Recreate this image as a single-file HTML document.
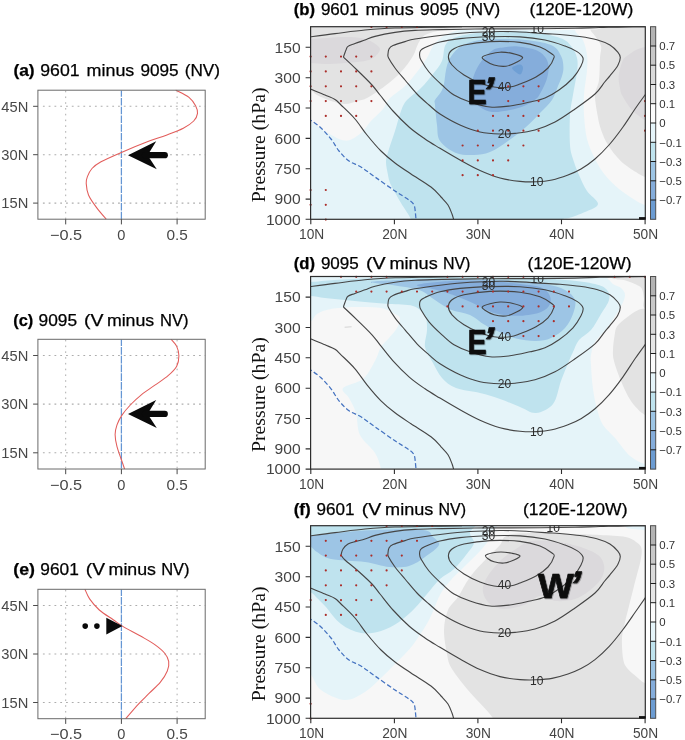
<!DOCTYPE html>
<html lang="en"><head><meta charset="utf-8"><title>Figure</title>
<style>html,body{margin:0;padding:0;background:#fff}svg{display:block}text{font-family:"Liberation Sans",sans-serif}.tk{font-size:14.1px;fill:#444}.tl{font-size:14.6px;fill:#484848}.cl{font-size:12px;fill:#2c2c2c}.cb{font-size:11.4px;fill:#333}.tt{font-size:16px;fill:#000;stroke:#000;stroke-width:0.25px}.yl{font-family:"Liberation Serif",serif;font-size:19.8px;fill:#111}.big{font-size:35.2px;font-weight:bold;fill:#0a0a0a;stroke:#0a0a0a;stroke-width:0.7px}</style></head><body>
<svg width="685" height="740" viewBox="0 0 685 740">
<rect width="685" height="740" fill="#fff"/>
<defs>
<clipPath id="cpb"><rect x="310.6" y="26.7" width="334.7" height="192.6"/></clipPath>
<g id="lines" fill="none" stroke="#454545" stroke-width="1.12" stroke-linejoin="round">
<path d="M308 37C308.4 37 305.9 37.4 310.4 36.8C314.9 36.2 325.9 34.7 335 33.6C344.1 32.5 355 30.9 365 30C375 29.1 384.2 28.4 395 28C405.8 27.6 418.8 27.5 430 27.3C441.2 27.1 456.7 26.7 462 26.6"/>
<path d="M308 88C308.4 88.2 307.6 87.8 310.4 89C313.2 90.2 320.9 93.2 325 95C329.1 96.8 332.3 97.8 335 99.5C337.7 101.2 337.7 101.8 341 105C344.3 108.2 350.7 114 355 119C359.3 124 362.7 129.7 367 135C371.3 140.3 376.3 146.3 381 151C385.7 155.7 390 159.2 395 163C400 166.8 405 170 411 174C417 178 426 183.2 431 187C436 190.8 438.2 194 441 197C443.8 200 446.2 202.2 448 205C449.8 207.8 451.1 211.6 452 214C452.9 216.4 453.3 218.1 453.6 219.4C453.9 220.7 453.9 221.6 454 222"/>
<path d="M343.4 57.2C343.8 56 345.2 51.8 346 50C346.8 48.2 346.5 47.5 348 46.4C349.5 45.3 352.2 44.7 355 43.6C357.8 42.5 361.7 41.2 365 40C368.3 38.8 370 37.7 375 36.4C380 35.1 388.3 33.4 395 32.4C401.7 31.4 407.2 30.9 415 30.4C422.8 29.9 429.5 29.9 442 29.6C454.5 29.4 473.7 29 490 28.9C506.3 28.8 525.8 28.9 540 28.8C554.2 28.7 565 28.5 575 28.3C585 28.1 591.7 27.7 600 27.5C608.3 27.3 617 27 625 26.9C633 26.8 644.2 26.7 648 26.7"/>
<path d="M343.4 57.2C345.7 59.3 352.2 65.4 357 70C361.8 74.6 368.2 80.8 372 85C375.8 89.2 376.5 90.7 380 95C383.5 99.3 388.2 105.7 393 111C397.8 116.3 403.7 122.3 409 127C414.3 131.7 419.8 135.4 425 139C430.2 142.6 434.2 144.8 440 148.3C445.8 151.8 453.3 156.3 460 160C466.7 163.7 473.3 167.5 480 170.5C486.7 173.5 493.3 176.2 500 178C506.7 179.8 513.9 180.8 520 181.4C526.1 182 531.3 182 536.6 181.8C541.9 181.6 546.8 181.1 552 180C557.2 178.9 563.2 176.8 568 175C572.8 173.2 576.5 171.7 581 169C585.5 166.3 590.3 163 595 159C599.7 155 604.3 150.3 609 145C613.7 139.7 618.7 133 623 127C627.3 121 631.3 114.4 635 109C638.7 103.6 643.2 97.5 645.4 94.5C647.6 91.5 647.6 91.6 648 91"/>
<path d="M442 35.2C451.2 34.1 460.3 33.1 470 32.5C479.7 31.9 492.5 31.6 500 31.5C507.5 31.4 507.5 31.4 515 31.8C522.5 32.1 537.5 33.1 545 33.6C552.5 34.1 554.2 34 560 34.5C565.8 35 573.6 35.6 579.7 36.5C585.8 37.4 591.8 38.3 596.8 39.7C601.8 41.1 606.4 42.9 609.9 45C613.4 47.1 616.1 50.1 617.8 52.2C619.5 54.3 620.3 55.3 620.3 57.5C620.3 59.7 619.5 62.3 617.8 65.4C616.1 68.5 612.1 73.1 609.9 75.9C607.7 78.7 607.2 79 604.7 82C602.2 85 600 89.5 595 94C590 98.5 581.7 104.3 575 109C568.3 113.7 561.7 118.5 555 122C548.3 125.5 541.7 128.1 535 130C528.3 131.9 520.8 132.7 515 133.4C509.2 134.1 505.8 134.2 500 134C494.2 133.8 486.7 133.5 480 132C473.3 130.5 466.7 128 460 125C453.3 122 445.2 117.3 440 114C434.8 110.7 432.8 108.3 429 105C425.2 101.7 421 98.2 417 94C413 89.8 408.7 84.3 405 80C401.3 75.7 397.7 71.7 395 68C392.3 64.3 389.8 60.3 388.6 58C387.4 55.7 387.9 55.5 388 54C388.1 52.5 388.2 50.4 389 49C389.8 47.6 390.3 46.8 393 45.6C395.7 44.4 401.3 42.7 405 41.6C408.7 40.5 408.8 40.1 415 39C421.2 37.9 432.8 36.3 442 35.2Z"/>
<path d="M440 42C445.8 40.5 451.7 39.5 460 38.6C468.3 37.7 480 37.1 490 36.8C500 36.5 510.8 36.4 520 36.9C529.2 37.4 537.5 38.5 545 40C552.5 41.5 559.7 44.1 565 46C570.3 47.9 574 49.6 577 51.6C580 53.6 582.3 55.6 583 58C583.7 60.4 582.7 62.7 581 66C579.3 69.3 576.7 74 573 78C569.3 82 563.7 86.7 559 90C554.3 93.3 549.8 96 545 98C540.2 100 535.8 100.7 530 102C524.2 103.3 516.7 105.2 510 106C503.3 106.8 496.7 107.7 490 107C483.3 106.3 476 104 470 102C464 100 458.7 97.8 454 95C449.3 92.2 446.2 88.8 442 85C437.8 81.2 432.5 76.2 429 72C425.5 67.8 422.6 62.8 421 60C419.4 57.2 419.7 56.6 419.6 55C419.5 53.4 419.7 51.7 420.6 50.5C421.5 49.3 421.8 49 425 47.6C428.2 46.2 434.2 43.5 440 42Z"/>
<path d="M448.4 57C448.4 54.5 449.4 52 452 50C454.6 48 457.7 46.4 464 45C470.3 43.6 480.7 42 490 41.6C499.3 41.2 511.7 41.5 520 42.4C528.3 43.3 534.7 45.1 540 47C545.3 48.9 549.7 52.2 552 54C554.3 55.8 554.7 55.3 554 57.6C553.3 59.9 551 64.8 548 68C545 71.2 540.7 74.3 536 77C531.3 79.7 524.3 82.3 520 84C515.7 85.7 514.3 86.5 510 87C505.7 87.5 499 87.7 494 87C489 86.3 485 85 480 83C475 81 468.7 78 464 75C459.3 72 454.6 68 452 65C449.4 62 448.4 59.5 448.4 57Z"/>
</g>
<g id="linesF" fill="none" stroke="#454545" stroke-width="1.12" stroke-linejoin="round">
<path d="M308 37C308.4 37 305.9 37.4 310.4 36.8C314.9 36.2 325.9 34.7 335 33.6C344.1 32.5 355 30.9 365 30C375 29.1 384.2 28.4 395 28C405.8 27.6 418.8 27.5 430 27.3C441.2 27.1 456.7 26.7 462 26.6"/>
<path d="M308 88C308.4 88.2 307.6 87.8 310.4 89C313.2 90.2 320.9 93.2 325 95C329.1 96.8 332.3 97.8 335 99.5C337.7 101.2 337.7 101.8 341 105C344.3 108.2 350.7 114 355 119C359.3 124 362.7 129.7 367 135C371.3 140.3 376.3 146.3 381 151C385.7 155.7 390 159.2 395 163C400 166.8 405 170 411 174C417 178 426 183.2 431 187C436 190.8 438.2 194 441 197C443.8 200 446.2 202.2 448 205C449.8 207.8 451.1 211.6 452 214C452.9 216.4 453.3 218.1 453.6 219.4C453.9 220.7 453.9 221.6 454 222"/>
<path d="M341 56C341.3 55 341.8 51.8 343 50C344.2 48.2 345.8 46.3 348 45C350.2 43.7 353.2 43.2 356 42.4C358.8 41.6 361.8 41 365 40C368.2 39 370 37.7 375 36.4C380 35.1 388.3 33.4 395 32.4C401.7 31.4 407.2 30.9 415 30.4C422.8 29.9 429.5 29.9 442 29.6C454.5 29.4 473.7 29 490 28.9C506.3 28.8 525.8 28.9 540 28.8C554.2 28.7 565 28.5 575 28.3C585 28.1 591.7 27.7 600 27.5C608.3 27.3 617 27 625 26.9C633 26.8 644.2 26.7 648 26.7"/>
<path d="M341 56C341.7 56.8 342.3 58.5 345 61C347.7 63.5 352.5 67 357 71C361.5 75 368.2 81 372 85C375.8 89 376.5 90.7 380 95C383.5 99.3 388.2 105.7 393 111C397.8 116.3 403.7 122.3 409 127C414.3 131.7 419.8 135.4 425 139C430.2 142.6 434.2 144.8 440 148.3C445.8 151.8 453.3 156.3 460 160C466.7 163.7 473.3 167.6 480 170.5C486.7 173.4 493.3 175.9 500 177.6C506.7 179.3 513.9 180.1 520 180.6C526.1 181.1 531.3 181 536.6 180.8C541.9 180.6 546.8 180.4 552 179.4C557.2 178.4 563.2 176.6 568 175C572.8 173.4 576.5 172 581 169.6C585.5 167.2 590.3 164.3 595 160.6C599.7 156.9 604.3 152.6 609 147.6C613.7 142.6 618.7 136.2 623 130.5C627.3 124.8 631.3 118.8 635 113.5C638.7 108.2 643.2 101.7 645.4 98.6C647.6 95.5 647.6 95.6 648 95"/>
<path d="M442 35.2C451.2 34.1 460.3 33.1 470 32.5C479.7 31.9 492.5 31.6 500 31.5C507.5 31.4 507.5 31.4 515 31.8C522.5 32.1 537.5 33.1 545 33.6C552.5 34.1 554.2 34 560 34.5C565.8 35 573.6 35.6 579.7 36.5C585.8 37.4 591.8 38.3 596.8 39.7C601.8 41.1 606.4 42.9 609.9 45C613.4 47.1 616.1 50.1 617.8 52.2C619.5 54.3 620.3 55.3 620.3 57.5C620.3 59.7 619.5 62.3 617.8 65.4C616.1 68.5 612.1 73.1 609.9 75.9C607.7 78.7 607.2 79 604.7 82C602.2 85 600 89.5 595 94C590 98.5 581.7 104.3 575 109C568.3 113.7 561.7 118.5 555 122C548.3 125.5 541.7 128.1 535 130C528.3 131.9 520.8 132.7 515 133.4C509.2 134.1 505.8 134.2 500 134C494.2 133.8 486.7 133.5 480 132C473.3 130.5 466.7 128 460 125C453.3 122 445.2 117.3 440 114C434.8 110.7 432.8 108.3 429 105C425.2 101.7 421 98.2 417 94C413 89.8 408.7 84.3 405 80C401.3 75.7 397.7 71.7 395 68C392.3 64.3 389.8 60.3 388.6 58C387.4 55.7 387.9 55.5 388 54C388.1 52.5 388.2 50.4 389 49C389.8 47.6 390.3 46.8 393 45.6C395.7 44.4 401.3 42.7 405 41.6C408.7 40.5 408.8 40.1 415 39C421.2 37.9 432.8 36.3 442 35.2Z"/>
<path d="M440 42C445.8 40.5 451.7 39.5 460 38.6C468.3 37.7 480 37.1 490 36.8C500 36.5 510.8 36.4 520 36.9C529.2 37.4 537.5 38.5 545 40C552.5 41.5 559.7 44.1 565 46C570.3 47.9 574 49.6 577 51.6C580 53.6 582.3 55.6 583 58C583.7 60.4 582.7 62.7 581 66C579.3 69.3 576.7 74 573 78C569.3 82 563.7 86.7 559 90C554.3 93.3 549.8 96 545 98C540.2 100 535.8 100.7 530 102C524.2 103.3 516.7 105.2 510 106C503.3 106.8 496.7 107.7 490 107C483.3 106.3 476 104 470 102C464 100 458.7 97.8 454 95C449.3 92.2 446.2 88.8 442 85C437.8 81.2 432.5 76.2 429 72C425.5 67.8 422.6 62.8 421 60C419.4 57.2 419.7 56.6 419.6 55C419.5 53.4 419.7 51.7 420.6 50.5C421.5 49.3 421.8 49 425 47.6C428.2 46.2 434.2 43.5 440 42Z"/>
<path d="M448.4 57C448.4 54.5 449.4 52 452 50C454.6 48 457.7 46.4 464 45C470.3 43.6 480.7 42 490 41.6C499.3 41.2 511.7 41.5 520 42.4C528.3 43.3 534.7 45.1 540 47C545.3 48.9 549.7 52.2 552 54C554.3 55.8 554.7 55.3 554 57.6C553.3 59.9 551 64.8 548 68C545 71.2 540.7 74.3 536 77C531.3 79.7 524.3 82.3 520 84C515.7 85.7 514.3 86.5 510 87C505.7 87.5 499 87.7 494 87C489 86.3 485 85 480 83C475 81 468.7 78 464 75C459.3 72 454.6 68 452 65C449.4 62 448.4 59.5 448.4 57Z"/>
</g>
<g id="lines_b" fill="none" stroke="#454545" stroke-width="1.12">
<path d="M482.4 57C483.2 55.9 487.1 54.8 490 54C492.9 53.2 496.3 52.3 500 52.2C503.7 52.1 508.2 52.5 512 53.4C515.8 54.3 521.9 55.9 522.6 57.4C523.3 58.9 518.8 61 516 62.5C513.2 64 509.7 65.8 506 66.2C502.3 66.6 497.5 66 494 65C490.5 64 486.9 61.8 485 60.5C483.1 59.2 481.6 58.1 482.4 57Z"/>
</g>
<g id="lines_f" fill="none" stroke="#454545" stroke-width="1.12">
<path d="M485.6 56.4C486.3 55.4 489.4 54.6 492 54C494.6 53.4 497.7 53 501 53C504.3 53 508.8 53.7 512 54.3C515.2 54.9 519.7 55.7 520 56.8C520.3 57.9 516.7 59.8 514 61C511.3 62.2 507.3 63.7 504 64C500.7 64.3 496.7 63.5 494 62.8C491.3 62.1 489.4 60.9 488 59.8C486.6 58.7 484.9 57.4 485.6 56.4Z"/>
</g>
<path id="dash" fill="none" stroke="#4472c0" stroke-width="1.25" stroke-dasharray="4.6 2.4" d="M308 118.4C308.4 118.7 308.2 118.4 310.4 120C312.6 121.6 317.6 124.8 321 128C324.4 131.2 328 135.2 331 139C334 142.8 336 147.3 339 151C342 154.7 345.3 158.3 349 161C352.7 163.7 356.7 164.3 361 167C365.3 169.7 369.3 173 375 177C380.7 181 389.3 187.2 395 191C400.7 194.8 405.8 197.7 409 200C412.2 202.3 412.9 202.8 414 205C415.1 207.2 415.1 210.6 415.4 213C415.7 215.4 415.9 218.3 416 219.4"/>
</defs>
<defs><filter id="sh" x="-10%" y="-10%" width="130%" height="130%"><feDropShadow dx="0.6" dy="0.8" stdDeviation="0.7" flood-color="#000" flood-opacity="0.45"/></filter></defs>
<g>
<g clip-path="url(#cpb)" transform="translate(0 0)">
<rect x="309.6" y="25.7" width="336.7" height="194.6" fill="#e5f4f9"/>
<path fill="#bfe3ee" d="M442 61C439.8 66 436.5 69.5 433 74C429.5 78.5 425.3 83.7 421 88C416.7 92.3 410.3 96.2 407 100C403.7 103.8 403 105.8 401 111C399 116.2 397 124.7 395 131C393 137.3 390.5 144 389 149C387.5 154 386.2 156.7 386 161C385.8 165.3 387.2 171 388 175C388.8 179 388.8 180.3 391 185C393.2 189.7 397.7 197.3 401 203C404.3 208.7 409.2 214.9 411 219.4C412.8 223.9 386.7 228.2 412 230C437.3 231.8 537.8 231.8 563 230C588.2 228.2 562 221.4 563 219.4C564 217.4 565.3 219.2 569 218C572.7 216.8 580.2 214.3 585 212C589.8 209.7 597.7 207.5 598 204C598.3 200.5 590.2 195.8 587 191C583.8 186.2 581.3 180.3 579 175C576.7 169.7 574.5 164 573 159C571.5 154 570.5 152.3 570 145C569.5 137.7 569.5 123.3 570 115C570.5 106.7 571.8 102.2 573 95C574.2 87.8 576.3 78.2 577 72C577.7 65.8 578 62.3 577 58C576 53.7 573.8 49.3 571 46C568.2 42.7 566.8 40.3 560 38C553.2 35.7 541.7 33 530 32C518.3 31 501.7 31.3 490 32C478.3 32.7 467.3 34 460 36C452.7 38 449 39.8 446 44C443 48.2 444.2 56 442 61Z"/>
<path fill="#9dc5e5" d="M435 100C436 97.8 439.5 94.7 441 92C442.5 89.3 443.2 87.7 444 84C444.8 80.3 445.1 74.2 446 70C446.9 65.8 447.6 62.5 449.7 58.8C451.8 55.1 454.5 50.8 458.5 47.9C462.5 45 467.6 42.8 473.8 41.3C480 39.8 486.6 39.3 495.7 39.1C504.8 38.9 519 39.1 528.5 40.2C538 41.3 547.1 43 552.6 45.7C558.1 48.5 559.6 53.1 561.4 56.7C563.2 60.4 563.3 64.4 563.4 67.6C563.5 70.8 562.9 72.9 562 76C561.1 79.1 559.7 82 558 86C556.3 90 555 95.5 552 100C549 104.5 544.3 108.5 540 113C535.7 117.5 531.3 122.3 526 127C520.7 131.7 514 136.8 508 141C502 145.2 495.7 149.7 490 152C484.3 154.3 479.7 154.8 474 155C468.3 155.2 461.7 155.3 456 153C450.3 150.7 443.2 145.7 440 141C436.8 136.3 437.8 131 437 125C436.2 119 435.3 109.2 435 105C434.7 100.8 434 102.2 435 100Z"/>
<path fill="#85addb" d="M470 97C468.9 91.9 471.6 82.5 473.5 76.5C475.4 70.5 478.2 65.4 481.5 61C484.8 56.6 489.4 52.2 493 50C496.6 47.8 498.8 48.1 503 47.5C507.2 46.9 512.3 46 518 46.5C523.7 47 532.3 48.4 537 50.4C541.7 52.4 544.1 55.4 546 58.3C547.9 61.2 548.5 64.4 548.6 68C548.7 71.6 547.8 76 546.5 80C545.2 84 542.8 88.8 541 92C539.2 95.2 538.8 96.7 536 99C533.2 101.3 528.3 104.2 524 106C519.7 107.8 515.3 109 510 110C504.7 111 497 112.5 492 112C487 111.5 483.7 109.5 480 107C476.3 104.5 471.1 102.1 470 97Z"/>
<path fill="#6f9fd4" d="M512 68C512 66.3 518.2 64.4 520 64.4C521.8 64.4 523 66.3 523 68C523 69.7 521.8 74.4 520 74.4C518.2 74.4 512 69.7 512 68Z"/>
<path fill="#f7f7f7" d="M300 10C328.3 -7.7 441.7 7.2 470 10C498.3 12.8 472.5 23.5 470 27C467.5 30.5 459.7 29.3 455 31C450.3 32.7 445.7 34.5 442 37C438.3 39.5 435.5 42.5 433 46C430.5 49.5 429.7 53.7 427 58C424.3 62.3 420.7 67.3 417 72C413.3 76.7 409.5 81.7 405 86C400.5 90.3 393.7 94.2 390 98C386.3 101.8 386.2 105.2 383 109C379.8 112.8 374.7 117 371 121C367.3 125 365.3 129.7 361 133C356.7 136.3 351.3 141.1 345 140.6C338.7 140.1 328.8 133.3 323 130C317.2 126.7 314.2 123.3 310.4 121C306.6 118.7 301.7 134.5 300 116C298.3 97.5 271.7 27.7 300 10Z"/>
<path fill="#e3e3e3" d="M300 10C325.8 -3 429.2 7.2 455 10C480.8 12.8 457.2 23.7 455 27C452.8 30.3 447 28.7 442 30C437 31.3 429 32.7 425 35C421 37.3 420 40.5 418 44C416 47.5 415.8 51.3 413 56C410.2 60.7 405.7 67 401 72C396.3 77 390.7 81.7 385 86C379.3 90.3 371.7 95.5 367 98C362.3 100.5 360.7 100 357 101C353.3 102 349.3 104 345 104C340.7 104 335.7 102.5 331 101C326.3 99.5 320.4 96.8 317 95C313.6 93.2 313.2 91.2 310.4 90C307.6 88.8 301.7 101.3 300 88C298.3 74.7 274.2 23 300 10Z"/>
<path fill="#dbd9dc" d="M300 39C301.7 35 302.9 39.3 310.4 39C317.9 38.7 335.9 37 345 37C354.1 37 359.5 37.5 365 39C370.5 40.5 375.7 43.8 378 46C380.3 48.2 380.5 49.7 379 52C377.5 54.3 374.7 58.2 369 60C363.3 61.8 352.3 62.3 345 63C337.7 63.7 330.8 64 325 64C319.2 64 314.6 63.2 310.4 63C306.2 62.8 301.7 67 300 63C298.3 59 298.3 43 300 39Z"/>
<path fill="#f7f7f7" d="M575 10C589.2 6.7 645.8 -22.8 660 10C674.2 42.8 662.5 174.5 660 207C657.5 239.5 649.2 206.2 645 205C640.8 203.8 639.3 202.7 635 200C630.7 197.3 624 193.2 619 189C614 184.8 609 180 605 175C601 170 598 165 595 159C592 153 588.8 146.3 587 139C585.2 131.7 584.5 122.3 584 115C583.5 107.7 583.5 102.5 584 95C584.5 87.5 586.5 76.7 587 70C587.5 63.3 587.7 60 587 55C586.3 50 585 44.2 583 40C581 35.8 576.3 35 575 30C573.7 25 560.8 13.3 575 10Z"/>
<path fill="#e3e3e3" d="M590 10C601.7 7 648.3 -18.2 660 10C671.7 38.2 662.5 151.2 660 179C657.5 206.8 648.7 177.8 644.7 176.7C640.7 175.5 640 174.7 636 172.1C632 169.5 625.3 165.3 620.7 160.9C616.1 156.5 611.6 150.6 608.4 145.5C605.1 140.4 603 135.3 601.2 130.2C599.4 125.1 598.5 120.9 597.5 115C596.5 109.1 594.8 100.8 595 95C595.2 89.2 598.2 86.2 599 80C599.8 73.8 599.7 63.7 600 58C600.3 52.3 601.8 49.7 601 46C600.2 42.3 596.8 39 595 36C593.2 33 590.8 32.3 590 28C589.2 23.7 578.3 13 590 10Z"/>
<path fill="#dbd9dc" d="M660 45C657.6 32.5 649.4 46.1 645.4 46.9C641.4 47.7 639.1 48.5 636 50C632.9 51.5 629.2 54.2 627 56C624.8 57.8 623.9 57.7 622.5 61C621.1 64.3 619.1 71.5 618.7 76C618.3 80.5 619.4 84.7 620 88C620.6 91.3 620.5 92.4 622.5 96C624.5 99.6 628.6 106.2 631.7 109.8C634.8 113.4 638.7 115.7 641 117.4C643.3 119.1 642.2 119.2 645.4 120C648.6 120.8 657.6 134.5 660 122C662.4 109.5 662.4 57.5 660 45Z"/>
<path fill="#f7f7f7" d="M452 20C476.7 18.5 575.3 18.6 600 20C624.7 21.4 602.5 27 600 28.6C597.5 30.2 591.7 29.3 585 29.6C578.3 29.9 574.2 30.2 560 30.2C545.8 30.2 518 29.8 500 29.6C482 29.4 460 30.8 452 29.2C444 27.6 427.3 21.5 452 20Z"/>
<use href="#lines"/><use href="#lines_b"/><use href="#dash"/>
</g>
<path d="M371.4 27h0M386.6 27h0M401.8 27h0M417 27h0M310.6 56.6h0M325.8 56.6h0M341 56.6h0M356.2 56.6h0M371.4 56.6h0M310.6 71.4h0M325.8 71.4h0M341 71.4h0M356.2 71.4h0M371.4 71.4h0M310.6 86.3h0M325.8 86.3h0M341 86.3h0M356.2 86.3h0M371.4 86.3h0M310.6 101.1h0M325.8 101.1h0M341 101.1h0M356.2 101.1h0M371.4 101.1h0M325.8 115.9h0M341 115.9h0M356.2 115.9h0M310.6 190h0M325.8 190h0M310.6 204.8h0M325.8 204.8h0M325.8 219.6h0M508.2 86.3h0M523.4 86.3h0M538.6 86.3h0M508.2 101.1h0M523.4 101.1h0M538.6 101.1h0M493 115.9h0M508.2 115.9h0M523.4 115.9h0M538.6 115.9h0M477.8 130.7h0M493 130.7h0M508.2 130.7h0M523.4 130.7h0M538.6 130.7h0M462.6 145.5h0M477.8 145.5h0M493 145.5h0M508.2 145.5h0M523.4 145.5h0M462.6 160.4h0M477.8 160.4h0M493 160.4h0M508.2 160.4h0M462.6 175.2h0M477.8 175.2h0M493 175.2h0M645 101.1h0M645 115.9h0M645 130.7h0" stroke="#ab2e2a" stroke-width="2.2" stroke-linecap="round" fill="none"/>
<text class="cl" x="536.8" y="186" text-anchor="middle">10</text>
<text class="cl" x="504.4" y="138.4" text-anchor="middle">20</text>
<text class="cl" x="504.4" y="91.2" text-anchor="middle">40</text>
<text class="cl" x="488.4" y="36.2" text-anchor="middle">20</text>
<text class="cl" x="488.4" y="40.6" text-anchor="middle">30</text>
<g clip-path="url(#cpb)" transform="translate(0 0)"><text class="cl" x="537.2" y="33" text-anchor="middle">10</text></g>
<rect x="310.6" y="26.7" width="334.7" height="192.6" fill="none" stroke="#2e2e2e" stroke-width="1.2"/>
<rect x="639" y="217.1" width="6.6" height="2.4" fill="#111"/>
<path d="M310.6 47.3h-5M310.6 77.7h-5M310.6 108h-5M310.6 138.4h-5M310.6 168.7h-5M310.6 199.1h-5M310.6 219.3h-5M310.8 219.3v5M394.4 219.3v5M477.9 219.3v5M561.5 219.3v5M645.1 219.3v5" stroke="#2e2e2e" stroke-width="1.1" fill="none"/>
<text class="tk" x="300.7" y="52.5" text-anchor="end" textLength="26.1" lengthAdjust="spacingAndGlyphs">150</text>
<text class="tk" x="300.7" y="82.9" text-anchor="end" textLength="26.1" lengthAdjust="spacingAndGlyphs">300</text>
<text class="tk" x="300.7" y="113.2" text-anchor="end" textLength="26.1" lengthAdjust="spacingAndGlyphs">450</text>
<text class="tk" x="300.7" y="143.6" text-anchor="end" textLength="26.1" lengthAdjust="spacingAndGlyphs">600</text>
<text class="tk" x="300.7" y="173.9" text-anchor="end" textLength="26.1" lengthAdjust="spacingAndGlyphs">750</text>
<text class="tk" x="300.7" y="204.3" text-anchor="end" textLength="26.1" lengthAdjust="spacingAndGlyphs">900</text>
<text class="tk" x="300.7" y="224.5" text-anchor="end" textLength="34.8" lengthAdjust="spacingAndGlyphs">1000</text>
<text class="tk" x="311.6" y="238.7" text-anchor="middle" textLength="25.2" lengthAdjust="spacingAndGlyphs">10N</text>
<text class="tk" x="394.8" y="238.7" text-anchor="middle" textLength="25.2" lengthAdjust="spacingAndGlyphs">20N</text>
<text class="tk" x="478.3" y="238.7" text-anchor="middle" textLength="25.2" lengthAdjust="spacingAndGlyphs">30N</text>
<text class="tk" x="561.9" y="238.7" text-anchor="middle" textLength="25.2" lengthAdjust="spacingAndGlyphs">40N</text>
<text class="tk" x="645.5" y="238.7" text-anchor="middle" textLength="25.2" lengthAdjust="spacingAndGlyphs">50N</text>
<text class="yl" transform="translate(264.6 144.8) rotate(-90)" text-anchor="middle">Pressure (hPa)</text>
<g style="filter:url(#sh)"><text class="big" x="467.8" y="103.9" textLength="18.8" lengthAdjust="spacingAndGlyphs">E</text><text class="big" transform="translate(479.6 105.1) skewX(-14)" style="font-size:40px">’</text></g>
<text class="tt" x="293.7" y="15.2" textLength="21.3" lengthAdjust="spacingAndGlyphs" font-weight="bold">(b)</text>
<text class="tt" x="320.9" y="15.2" textLength="37.9" lengthAdjust="spacingAndGlyphs">9601</text>
<text class="tt" x="365.5" y="15.2" textLength="48.2" lengthAdjust="spacingAndGlyphs">minus</text>
<text class="tt" x="420.1" y="15.2" textLength="38.6" lengthAdjust="spacingAndGlyphs">9095</text>
<text class="tt" x="465.2" y="15.2" textLength="35" lengthAdjust="spacingAndGlyphs">(NV)</text>
<text class="tt" x="529.4" y="15.2" textLength="104" lengthAdjust="spacingAndGlyphs">(120E-120W)</text>
<rect x="650.5" y="26.7" width="5.2" height="19.5" fill="#b3b3b3"/>
<rect x="650.5" y="46" width="5.2" height="19.5" fill="#c8c8c8"/>
<rect x="650.5" y="65.2" width="5.2" height="19.5" fill="#dadada"/>
<rect x="650.5" y="84.5" width="5.2" height="19.5" fill="#e6e6e6"/>
<rect x="650.5" y="103.7" width="5.2" height="19.5" fill="#fbfbfb"/>
<rect x="650.5" y="123" width="5.2" height="19.5" fill="#e5f4f9"/>
<rect x="650.5" y="142.3" width="5.2" height="19.5" fill="#bfe3ee"/>
<rect x="650.5" y="161.5" width="5.2" height="19.5" fill="#9dc5e5"/>
<rect x="650.5" y="180.8" width="5.2" height="19.5" fill="#85addb"/>
<rect x="650.5" y="200" width="5.2" height="19.5" fill="#6c9cd2"/>
<rect x="650.5" y="26.7" width="5.2" height="192.6" fill="none" stroke="#4e4e4e" stroke-width="1"/>
<text class="cb" x="659.3" y="50.2">0.7</text>
<text class="cb" x="659.3" y="69.4">0.5</text>
<text class="cb" x="659.3" y="88.7">0.3</text>
<text class="cb" x="659.3" y="107.9">0.1</text>
<text class="cb" x="659.3" y="127.2">0</text>
<text class="cb" x="659.3" y="146.5">−0.1</text>
<text class="cb" x="659.3" y="165.7">−0.3</text>
<text class="cb" x="659.3" y="185">−0.5</text>
<text class="cb" x="659.3" y="204.2">−0.7</text>
<path d="M650.5 46h5.6M650.5 65.2h5.6M650.5 84.5h5.6M650.5 103.7h5.6M650.5 123h5.6M650.5 142.3h5.6M650.5 161.5h5.6M650.5 180.8h5.6M650.5 200h5.6" stroke="#1c1c1c" stroke-width="1" fill="none"/>
</g>
<g>
<g clip-path="url(#cpb)" transform="translate(0 249.8)">
<rect x="309.6" y="25.7" width="336.7" height="194.6" fill="#e5f4f9"/>
<path fill="#bfe3ee" d="M300 32.2C301.7 29.9 304.6 32.5 310.4 32.2C316.2 31.9 325.9 30.8 335 30.2C344.1 29.6 354.2 29.2 365 28.8C375.8 28.4 385.8 28 400 27.8C414.2 27.6 430.8 27.2 450 27.4C469.2 27.6 495.8 28.3 515 28.8C534.2 29.3 551.7 29.3 565 30.2C578.3 31.1 588 32.5 595 34.2C602 35.9 604.7 37.5 607 40.2C609.3 42.9 610 46.2 609 50.2C608 54.2 604 59.2 601 64.2C598 69.2 594.7 75.9 591 80.2C587.3 84.5 582 86.5 579 90.2C576 93.9 574.7 98.7 573 102.2C571.3 105.7 571 106.4 569 111.2C567 116 563.7 124 561 131.2C558.3 138.4 557.2 148.9 553 154.2C548.8 159.5 541.5 162.7 536 163.2C530.5 163.7 526 159.5 520 157.2C514 154.9 506.7 151.5 500 149.2C493.3 146.9 487.3 145 480 143.2C472.7 141.4 462.3 140.7 456 138.2C449.7 135.7 445.8 132.4 442 128.2C438.2 124 435.8 118.4 433 113.2C430.2 108 426 102.7 425 97.2C424 91.7 427 85.4 427 80.2C427 75 427.3 70.2 425 66.2C422.7 62.2 419 58.2 413 56.2C407 54.2 397 54.9 389 54.2C381 53.5 372.3 52.9 365 52.2C357.7 51.5 351.7 50.9 345 50.2C338.3 49.5 330.8 48.9 325 48.2C319.2 47.5 314.6 46.5 310.4 46.2C306.2 45.9 301.7 48.5 300 46.2C298.3 43.9 298.3 34.5 300 32.2Z"/>
<path fill="#9dc5e5" d="M371 32.2C370.2 33.1 388.4 34.7 395 35.7C401.6 36.7 405.9 37.2 410.5 38.2C415.1 39.2 418.7 39.7 422.8 41.7C426.9 43.7 430.3 47.2 435 50.2C439.7 53.2 445 57.4 450.8 59.9C456.6 62.4 464.4 62.6 470 65.1C475.6 67.6 480 72.3 484.1 74.8C488.2 77.3 489.3 77.7 494.6 80C499.9 82.3 509.1 86.9 516 88.8C522.9 90.7 530.2 91.3 536 91.2C541.8 91.1 546.2 90.4 551 88.2C555.8 86 561.3 82.2 565 78.2C568.7 74.2 571.3 68.9 573 64.2C574.7 59.5 576.3 54.2 575 50.2C573.7 46.2 570 42.9 565 40.2C560 37.5 553.3 35.6 545 34.2C536.7 32.8 522.5 32.4 515 31.7C507.5 31 512.5 30.6 500 30.2C487.5 29.8 456.7 29.2 440 29.2C423.3 29.2 411.5 29.7 400 30.2C388.5 30.7 371.8 31.3 371 32.2Z"/>
<path fill="#85addb" d="M417 35.2C414.5 36.6 429.1 38.1 435 39.7C440.9 41.3 446.8 42.9 452.6 45C458.4 47.1 464.8 49.7 470 52C475.2 54.3 479.3 57 484 59C488.7 61 492 63 498 64.2C504 65.4 512.8 66.3 520 66C527.2 65.7 536 64.2 541 62.2C546 60.2 548.7 57.2 550 54.2C551.3 51.2 550.7 47 549 44.2C547.3 41.4 544.8 38.9 540 37.2C535.2 35.5 528.3 35.2 520 34.2C511.7 33.2 501.7 31.7 490 31.2C478.3 30.7 462.2 30.5 450 31.2C437.8 31.9 419.5 33.8 417 35.2Z"/>
<path fill="#f7f7f7" d="M300 72.2C301.7 45.9 307.6 73.5 310.4 72.2C313.2 70.9 313.6 66.4 317 64.2C320.4 62 324.7 60.4 331 59.2C337.3 58 346.7 57.4 355 57.2C363.3 57 374.3 57 381 58.2C387.7 59.4 391.8 62.5 395 64.2C398.2 65.9 399.7 65.9 400 68.2C400.3 70.5 398.8 74.9 397 78.2C395.2 81.5 391.7 85 389 88.2C386.3 91.4 383.3 93.4 381 97.2C378.7 101 378 105.9 375 111.2C372 116.5 368.3 124.7 363 129.2C357.7 133.7 345.3 135 343 138.2C340.7 141.4 346.8 144 349 148.2C351.2 152.4 354.2 157 356 163.2C357.8 169.4 356.8 178.5 360 185.2C363.2 191.9 371.5 197.5 375 203.2C378.5 208.9 380 214.7 381 219.2C382 223.7 394.5 228.4 381 230.2C367.5 232 313.5 256.5 300 230.2C286.5 203.9 298.3 98.5 300 72.2Z"/>
<path fill="#f7f7f7" d="M600 12.2C591.8 15.5 607.5 27.9 611 32.2C614.5 36.5 618.7 35.9 621 38.2C623.3 40.5 625.3 42.5 625 46.2C624.7 49.9 622 54.9 619 60.2C616 65.5 611 72.9 607 78.2C603 83.5 597.7 87.7 595 92.2C592.3 96.7 591.7 101.4 591 105.2C590.3 109 590.7 109.5 591 115.2C591.3 120.9 592 131.9 593 139.2C594 146.5 595.3 153.2 597 159.2C598.7 165.2 600 170.4 603 175.2C606 180 610.5 183 615 188.2C619.5 193.4 625 201.9 630 206.2C635 210.5 640 212.5 645 214.2C650 215.9 657.5 249.9 660 216.2C662.5 182.5 670 46.2 660 12.2C650 -21.8 608.2 8.9 600 12.2Z"/>
<path fill="#e3e3e3" d="M611 12.2C602.9 14.8 609.2 24.8 611.5 27.8C613.8 30.9 621 29.4 625 30.5C629 31.6 632.7 33.1 635.5 34.5C638.3 35.9 640.3 36.5 641.7 38.8C643.1 41.1 643.4 45 643.9 48.2C644.4 51.4 641.9 56.4 644.6 58.2C647.3 60 657.4 66.9 660 59.2C662.6 51.5 668.2 20 660 12.2C651.8 4.4 619.1 9.6 611 12.2Z"/>
<path fill="#e3e3e3" d="M660 57.2C657.6 39.1 649.2 58.2 645.4 58.8C641.6 59.4 640.4 59.2 637.3 60.7C634.2 62.2 630.2 65.1 626.8 67.7C623.4 70.3 619.1 73.4 617.1 76.5C615.1 79.6 615.2 82.2 614.5 86.2C613.8 90.1 613.1 96 613 100.2C612.9 104.4 612.7 106 614 111.2C615.3 116.4 618.2 124.5 621 131.2C623.8 137.9 627 145.5 631 151.2C635 156.9 640.2 162.5 645 165.2C649.8 167.9 657.5 185.2 660 167.2C662.5 149.2 662.4 75.3 660 57.2Z"/>
<use href="#lines"/><use href="#lines_b"/><use href="#dash"/>
</g>
<path d="M341 276.8h0M356.2 276.8h0M371.4 276.8h0M386.6 276.8h0M447.4 276.8h0M462.6 276.8h0M477.8 276.8h0M493 276.8h0M508.2 276.8h0M523.4 276.8h0M614.6 276.8h0M629.8 276.8h0M645 276.8h0M356.2 291.6h0M371.4 291.6h0M386.6 291.6h0M401.8 291.6h0M417 291.6h0M432.2 291.6h0M447.4 291.6h0M462.6 291.6h0M477.8 291.6h0M493 291.6h0M508.2 291.6h0M523.4 291.6h0M538.6 291.6h0M553.8 291.6h0M569 291.6h0M447.4 306.4h0M462.6 306.4h0M477.8 306.4h0M493 306.4h0M508.2 306.4h0M523.4 306.4h0M538.6 306.4h0M553.8 306.4h0M569 306.4h0M493 321.2h0M508.2 321.2h0M523.4 321.2h0M538.6 321.2h0M553.8 321.2h0M523.4 336.1h0M538.6 336.1h0M553.8 336.1h0" stroke="#ab2e2a" stroke-width="2.2" stroke-linecap="round" fill="none"/>
<text class="cl" x="536.8" y="435.8" text-anchor="middle">10</text>
<text class="cl" x="504.4" y="388.2" text-anchor="middle">20</text>
<text class="cl" x="504.4" y="341" text-anchor="middle">40</text>
<text class="cl" x="488.4" y="286" text-anchor="middle">20</text>
<text class="cl" x="488.4" y="290.4" text-anchor="middle">30</text>
<g clip-path="url(#cpb)" transform="translate(0 249.8)"><text class="cl" x="537.2" y="33" text-anchor="middle">10</text></g>
<rect x="310.6" y="276.5" width="334.7" height="192.6" fill="none" stroke="#2e2e2e" stroke-width="1.2"/>
<rect x="639" y="466.9" width="6.6" height="2.4" fill="#111"/>
<path d="M310.6 297.1h-5M310.6 327.5h-5M310.6 357.8h-5M310.6 388.2h-5M310.6 418.5h-5M310.6 448.9h-5M310.6 469.1h-5M310.8 469.1v5M394.4 469.1v5M477.9 469.1v5M561.5 469.1v5M645.1 469.1v5" stroke="#2e2e2e" stroke-width="1.1" fill="none"/>
<text class="tk" x="300.7" y="302.3" text-anchor="end" textLength="26.1" lengthAdjust="spacingAndGlyphs">150</text>
<text class="tk" x="300.7" y="332.7" text-anchor="end" textLength="26.1" lengthAdjust="spacingAndGlyphs">300</text>
<text class="tk" x="300.7" y="363" text-anchor="end" textLength="26.1" lengthAdjust="spacingAndGlyphs">450</text>
<text class="tk" x="300.7" y="393.4" text-anchor="end" textLength="26.1" lengthAdjust="spacingAndGlyphs">600</text>
<text class="tk" x="300.7" y="423.7" text-anchor="end" textLength="26.1" lengthAdjust="spacingAndGlyphs">750</text>
<text class="tk" x="300.7" y="454.1" text-anchor="end" textLength="26.1" lengthAdjust="spacingAndGlyphs">900</text>
<text class="tk" x="300.7" y="474.3" text-anchor="end" textLength="34.8" lengthAdjust="spacingAndGlyphs">1000</text>
<text class="tk" x="311.6" y="488.5" text-anchor="middle" textLength="25.2" lengthAdjust="spacingAndGlyphs">10N</text>
<text class="tk" x="394.8" y="488.5" text-anchor="middle" textLength="25.2" lengthAdjust="spacingAndGlyphs">20N</text>
<text class="tk" x="478.3" y="488.5" text-anchor="middle" textLength="25.2" lengthAdjust="spacingAndGlyphs">30N</text>
<text class="tk" x="561.9" y="488.5" text-anchor="middle" textLength="25.2" lengthAdjust="spacingAndGlyphs">40N</text>
<text class="tk" x="645.5" y="488.5" text-anchor="middle" textLength="25.2" lengthAdjust="spacingAndGlyphs">50N</text>
<text class="yl" transform="translate(264.6 394.6) rotate(-90)" text-anchor="middle">Pressure (hPa)</text>
<g style="filter:url(#sh)"><text class="big" x="467.8" y="353.7" textLength="18.8" lengthAdjust="spacingAndGlyphs">E</text><text class="big" transform="translate(479.6 354.9) skewX(-14)" style="font-size:40px">’</text></g>
<text class="tt" x="293.7" y="268.9" textLength="21.3" lengthAdjust="spacingAndGlyphs" font-weight="bold">(d)</text>
<text class="tt" x="320.9" y="268.9" textLength="37.9" lengthAdjust="spacingAndGlyphs">9095</text>
<text class="tt" x="366.1" y="268.9" textLength="19.6" lengthAdjust="spacingAndGlyphs">(V</text>
<text class="tt" x="389.5" y="268.9" textLength="48.2" lengthAdjust="spacingAndGlyphs">minus</text>
<text class="tt" x="442.9" y="268.9" textLength="27.5" lengthAdjust="spacingAndGlyphs">NV)</text>
<text class="tt" x="527.4" y="268.9" textLength="104.2" lengthAdjust="spacingAndGlyphs">(120E-120W)</text>
<rect x="650.5" y="276.5" width="5.2" height="19.5" fill="#b3b3b3"/>
<rect x="650.5" y="295.8" width="5.2" height="19.5" fill="#c8c8c8"/>
<rect x="650.5" y="315" width="5.2" height="19.5" fill="#dadada"/>
<rect x="650.5" y="334.3" width="5.2" height="19.5" fill="#e6e6e6"/>
<rect x="650.5" y="353.5" width="5.2" height="19.5" fill="#fbfbfb"/>
<rect x="650.5" y="372.8" width="5.2" height="19.5" fill="#e5f4f9"/>
<rect x="650.5" y="392.1" width="5.2" height="19.5" fill="#bfe3ee"/>
<rect x="650.5" y="411.3" width="5.2" height="19.5" fill="#9dc5e5"/>
<rect x="650.5" y="430.6" width="5.2" height="19.5" fill="#85addb"/>
<rect x="650.5" y="449.8" width="5.2" height="19.5" fill="#6c9cd2"/>
<rect x="650.5" y="276.5" width="5.2" height="192.6" fill="none" stroke="#4e4e4e" stroke-width="1"/>
<text class="cb" x="659.3" y="300">0.7</text>
<text class="cb" x="659.3" y="319.2">0.5</text>
<text class="cb" x="659.3" y="338.5">0.3</text>
<text class="cb" x="659.3" y="357.7">0.1</text>
<text class="cb" x="659.3" y="377">0</text>
<text class="cb" x="659.3" y="396.3">−0.1</text>
<text class="cb" x="659.3" y="415.5">−0.3</text>
<text class="cb" x="659.3" y="434.8">−0.5</text>
<text class="cb" x="659.3" y="454">−0.7</text>
<path d="M650.5 295.8h5.6M650.5 315h5.6M650.5 334.3h5.6M650.5 353.5h5.6M650.5 372.8h5.6M650.5 392.1h5.6M650.5 411.3h5.6M650.5 430.6h5.6M650.5 449.8h5.6" stroke="#1c1c1c" stroke-width="1" fill="none"/>
</g>
<path d="M344.6 327.3L351.6 326.7" stroke="#d4d4d4" stroke-width="1.1" fill="none"/>
<g>
<g clip-path="url(#cpb)" transform="translate(0 499)">
<rect x="309.6" y="25.7" width="336.7" height="194.6" fill="#f7f7f7"/>
<path fill="#e5f4f9" d="M300 11C331.7 -15.7 458.3 7 490 11C521.7 15 490.3 29.8 490 35C489.7 40.2 489.7 39.2 488 42C486.3 44.8 483.7 48 480 52C476.3 56 471 61 466 66C461 71 454.3 77 450 82C445.7 87 443.5 89.5 440 96C436.5 102.5 433.2 113.2 429 121C424.8 128.8 419 137.3 415 143C411 148.7 408.7 151 405 155C401.3 159 397 163 393 167C389 171 385.7 174.7 381 179C376.3 183.3 371 189.3 365 193C359 196.7 352.3 201.3 345 201C337.7 200.7 326.8 195.3 321 191C315.2 186.7 313.9 178.3 310.4 175C306.9 171.7 301.7 198.3 300 171C298.3 143.7 268.3 37.7 300 11Z"/>
<path fill="#e5f4f9" d="M626 16C631.7 14 654.3 13.4 660 16C665.7 18.6 663.3 29.2 660 31.6C656.7 34 645.7 31.2 640 30.6C634.3 30 628.3 30.6 626 28.2C623.7 25.8 620.3 18 626 16Z"/>
<path fill="#bfe3ee" d="M300 11C328.3 -2.3 441.7 7.2 470 11C498.3 14.8 469.3 28.5 470 34C470.7 39.5 474.7 40.3 474 44C473.3 47.7 469.3 51.7 466 56C462.7 60.3 458.3 66 454 70C449.7 74 444.5 75.8 440 80C435.5 84.2 431.2 90.2 427 95C422.8 99.8 419.7 104.3 415 109C410.3 113.7 404.7 119.2 399 123C393.3 126.8 387.3 130.2 381 132C374.7 133.8 367.7 135.2 361 134C354.3 132.8 347 129.5 341 125C335 120.5 329 111.3 325 107C321 102.7 319.4 101.3 317 99C314.6 96.7 313.2 94.3 310.4 93C307.6 91.7 301.7 104.7 300 91C298.3 77.3 271.7 24.3 300 11Z"/>
<path fill="#9dc5e5" d="M300 37C301.7 35.2 304.6 37.5 310.4 37C316.2 36.5 324.2 35 335 34C345.8 33 360.3 31.5 375 31C389.7 30.5 413.3 29.8 423 31C432.7 32.2 430.3 35.5 433 38C435.7 40.5 440.3 42.7 439 46C437.7 49.3 430 54.5 425 58C420 61.5 415 65.3 409 67C403 68.7 396.3 68.7 389 68C381.7 67.3 374.7 64.3 365 63C355.3 61.7 339 61.7 331 60C323 58.3 320.4 55 317 53C313.6 51 313.2 48.8 310.4 48C307.6 47.2 301.7 49.8 300 48C298.3 46.2 298.3 38.8 300 37Z"/>
<path fill="#e3e3e3" d="M508 36C514.7 34 528.8 34.2 540 34C551.2 33.8 565 34.7 575 35C585 35.3 591.5 35.5 600 36C608.5 36.5 619.5 36.7 625.7 38C632 39.3 634.9 42 637.5 44C640.1 46 641.1 47 641.6 50C642.1 53 641.3 57.7 640.5 62C639.7 66.3 638.1 71.2 637 75.6C635.9 80.1 634.9 83.5 633.6 88.7C632.3 93.9 630.4 101.3 629 107C627.6 112.7 626.2 117.7 625 123C623.8 128.3 622.3 133 622 139C621.7 145 622.2 154 623 159C623.8 164 624.5 165.7 627 169C629.5 172.3 635 176.5 638 179C641 181.5 641.3 182.8 645 184C648.7 185.2 657.5 178.2 660 186C662.5 193.8 687.8 223.5 660 231C632.2 238.5 520.9 233 493 231C465.1 229 496.3 224.8 492.6 218.7C488.9 212.6 477.8 202.6 471 194.5C464.2 186.4 456 176.6 452 170C448 163.4 448.3 161.5 447 155C445.7 148.5 443.8 138.3 444 131C444.2 123.7 445.7 116.5 448 111C450.3 105.5 454.3 103.5 458 98C461.7 92.5 465.3 84.3 470 78C474.7 71.7 481 65.3 486 60C491 54.7 496.3 50 500 46C503.7 42 501.3 38 508 36Z"/>
<path fill="#dbd9dc" d="M532 42C540.2 41 554.5 42 565 44C575.5 46 588.5 50.3 595 54C601.5 57.7 603 61.7 604 66C605 70.3 603.5 75.7 601 80C598.5 84.3 593.3 88.7 589 92C584.7 95.3 580.5 98.3 575 100C569.5 101.7 561.8 102.5 556 102C550.2 101.5 545.3 96.3 540 97C534.7 97.7 530 103.8 524 106C518 108.2 509.7 110.2 504 110C498.3 109.8 493.5 107.8 490 105C486.5 102.2 483.7 97.2 483 93C482.3 88.8 483.2 85.2 486 80C488.8 74.8 495 67 500 62C505 57 510.7 53.3 516 50C521.3 46.7 523.8 43 532 42Z"/>
<use href="#linesF"/><use href="#lines_f"/><use href="#dash"/>
</g>
<path d="M386.6 526h0M401.8 526h0M417 526h0M432.2 526h0M325.8 540.8h0M341 540.8h0M356.2 540.8h0M371.4 540.8h0M386.6 540.8h0M401.8 540.8h0M417 540.8h0M325.8 555.6h0M341 555.6h0M356.2 555.6h0M371.4 555.6h0M386.6 555.6h0M401.8 555.6h0M325.8 570.4h0M341 570.4h0M356.2 570.4h0M371.4 570.4h0M386.6 570.4h0M401.8 570.4h0M325.8 585.3h0M341 585.3h0M356.2 585.3h0M371.4 585.3h0M386.6 585.3h0M310.6 600.1h0M325.8 600.1h0M341 600.1h0M356.2 600.1h0M371.4 600.1h0M325.8 614.9h0M341 614.9h0M356.2 614.9h0M310.6 703.8h0M310.6 718.6h0" stroke="#ab2e2a" stroke-width="2.2" stroke-linecap="round" fill="none"/>
<text class="cl" x="536.8" y="685" text-anchor="middle">10</text>
<text class="cl" x="504.4" y="637.4" text-anchor="middle">20</text>
<text class="cl" x="504.4" y="588.6" text-anchor="middle">40</text>
<text class="cl" x="488.4" y="535.2" text-anchor="middle">20</text>
<text class="cl" x="488.4" y="539.6" text-anchor="middle">30</text>
<g clip-path="url(#cpb)" transform="translate(0 499)"><text class="cl" x="553.2" y="33" text-anchor="middle">10</text></g>
<rect x="310.6" y="525.7" width="334.7" height="192.6" fill="none" stroke="#2e2e2e" stroke-width="1.2"/>
<rect x="639" y="716.1" width="6.6" height="2.4" fill="#111"/>
<path d="M310.6 546.3h-5M310.6 576.7h-5M310.6 607h-5M310.6 637.4h-5M310.6 667.7h-5M310.6 698.1h-5M310.6 718.3h-5M310.8 718.3v5M394.4 718.3v5M477.9 718.3v5M561.5 718.3v5M645.1 718.3v5" stroke="#2e2e2e" stroke-width="1.1" fill="none"/>
<text class="tk" x="300.7" y="551.5" text-anchor="end" textLength="26.1" lengthAdjust="spacingAndGlyphs">150</text>
<text class="tk" x="300.7" y="581.9" text-anchor="end" textLength="26.1" lengthAdjust="spacingAndGlyphs">300</text>
<text class="tk" x="300.7" y="612.2" text-anchor="end" textLength="26.1" lengthAdjust="spacingAndGlyphs">450</text>
<text class="tk" x="300.7" y="642.6" text-anchor="end" textLength="26.1" lengthAdjust="spacingAndGlyphs">600</text>
<text class="tk" x="300.7" y="672.9" text-anchor="end" textLength="26.1" lengthAdjust="spacingAndGlyphs">750</text>
<text class="tk" x="300.7" y="703.3" text-anchor="end" textLength="26.1" lengthAdjust="spacingAndGlyphs">900</text>
<text class="tk" x="300.7" y="723.5" text-anchor="end" textLength="34.8" lengthAdjust="spacingAndGlyphs">1000</text>
<text class="tk" x="311.6" y="737.7" text-anchor="middle" textLength="25.2" lengthAdjust="spacingAndGlyphs">10N</text>
<text class="tk" x="394.8" y="737.7" text-anchor="middle" textLength="25.2" lengthAdjust="spacingAndGlyphs">20N</text>
<text class="tk" x="478.3" y="737.7" text-anchor="middle" textLength="25.2" lengthAdjust="spacingAndGlyphs">30N</text>
<text class="tk" x="561.9" y="737.7" text-anchor="middle" textLength="25.2" lengthAdjust="spacingAndGlyphs">40N</text>
<text class="tk" x="645.5" y="737.7" text-anchor="middle" textLength="25.2" lengthAdjust="spacingAndGlyphs">50N</text>
<text class="yl" transform="translate(264.6 643.8) rotate(-90)" text-anchor="middle">Pressure (hPa)</text>
<g style="filter:url(#sh)"><text class="big" x="538" y="597.8" textLength="35.6" lengthAdjust="spacingAndGlyphs">W</text><text class="big" transform="translate(566.6 599) skewX(-14)" style="font-size:40px">’</text></g>
<text class="tt" x="293.7" y="515.4" textLength="17" lengthAdjust="spacingAndGlyphs" font-weight="bold">(f)</text>
<text class="tt" x="316.5" y="515.4" textLength="38" lengthAdjust="spacingAndGlyphs">9601</text>
<text class="tt" x="361.8" y="515.4" textLength="19.5" lengthAdjust="spacingAndGlyphs">(V</text>
<text class="tt" x="385.1" y="515.4" textLength="48.2" lengthAdjust="spacingAndGlyphs">minus</text>
<text class="tt" x="438.5" y="515.4" textLength="27.5" lengthAdjust="spacingAndGlyphs">NV)</text>
<text class="tt" x="523" y="515.4" textLength="104.5" lengthAdjust="spacingAndGlyphs">(120E-120W)</text>
<rect x="650.5" y="525.7" width="5.2" height="19.5" fill="#b3b3b3"/>
<rect x="650.5" y="545" width="5.2" height="19.5" fill="#c8c8c8"/>
<rect x="650.5" y="564.2" width="5.2" height="19.5" fill="#dadada"/>
<rect x="650.5" y="583.5" width="5.2" height="19.5" fill="#e6e6e6"/>
<rect x="650.5" y="602.7" width="5.2" height="19.5" fill="#fbfbfb"/>
<rect x="650.5" y="622" width="5.2" height="19.5" fill="#e5f4f9"/>
<rect x="650.5" y="641.3" width="5.2" height="19.5" fill="#bfe3ee"/>
<rect x="650.5" y="660.5" width="5.2" height="19.5" fill="#9dc5e5"/>
<rect x="650.5" y="679.8" width="5.2" height="19.5" fill="#85addb"/>
<rect x="650.5" y="699" width="5.2" height="19.5" fill="#6c9cd2"/>
<rect x="650.5" y="525.7" width="5.2" height="192.6" fill="none" stroke="#4e4e4e" stroke-width="1"/>
<text class="cb" x="659.3" y="549.2">0.7</text>
<text class="cb" x="659.3" y="568.4">0.5</text>
<text class="cb" x="659.3" y="587.7">0.3</text>
<text class="cb" x="659.3" y="606.9">0.1</text>
<text class="cb" x="659.3" y="626.2">0</text>
<text class="cb" x="659.3" y="645.5">−0.1</text>
<text class="cb" x="659.3" y="664.7">−0.3</text>
<text class="cb" x="659.3" y="684">−0.5</text>
<text class="cb" x="659.3" y="703.2">−0.7</text>
<path d="M650.5 545h5.6M650.5 564.2h5.6M650.5 583.5h5.6M650.5 602.7h5.6M650.5 622h5.6M650.5 641.3h5.6M650.5 660.5h5.6M650.5 679.8h5.6M650.5 699h5.6" stroke="#1c1c1c" stroke-width="1" fill="none"/>
</g>
<g>
<path d="M65.7 90.7V219.2M177.1 90.7V219.2" stroke="#adadad" stroke-width="1" stroke-dasharray="1.6 4.17" fill="none"/>
<path d="M42.9 203.1H205.2M42.9 154.7H205.2M42.9 106.3H205.2" stroke="#adadad" stroke-width="1.1" stroke-dasharray="1.8 3.98" fill="none"/>
<path d="M121.4 90.5V219.2" stroke="#6596d4" stroke-width="1.25" stroke-dasharray="7.6 1.15" stroke-dashoffset="1.3" fill="none"/>
<path d="M175.7 90.1C177.9 91.3 185.7 94.7 189 97.3C192.3 99.9 194.2 103.1 195.6 105.8C197 108.5 197.8 110.9 197.5 113.4C197.2 115.9 196.1 118.5 193.7 121C191.3 123.5 187.9 125.8 183.3 128.2C178.7 130.6 172.3 132.9 166.3 135.2C160.3 137.5 154.8 138.9 147.3 141.8C139.8 144.7 129.1 149.1 121.4 152.4C113.7 155.7 105.9 159.1 101 161.8C96.1 164.5 94.3 166 92 168.5C89.7 171 88.4 174.1 87.4 176.6C86.4 179.1 86 180.3 86.2 183.4C86.4 186.5 86.8 191 88.5 195C90.2 199 93.6 203.6 96.6 207.6C99.5 211.6 104.6 217.2 106.2 219.1" stroke="#e25d5b" stroke-width="1.05" fill="none"/>
<rect x="37.9" y="90.2" width="167.3" height="129" fill="none" stroke="#6a6a6a" stroke-width="1"/>
<path d="M65.7 219.2v5.2M121.4 219.2v5.2M177.1 219.2v5.2M37.9 203.1h-4.8M37.9 154.7h-4.8M37.9 106.3h-4.8" stroke="#4a4a4a" stroke-width="1" fill="none"/>
<text class="tl" x="28.3" y="208.4" text-anchor="end" textLength="27" lengthAdjust="spacingAndGlyphs">15N</text>
<text class="tl" x="28.3" y="160" text-anchor="end" textLength="27" lengthAdjust="spacingAndGlyphs">30N</text>
<text class="tl" x="28.3" y="111.6" text-anchor="end" textLength="27" lengthAdjust="spacingAndGlyphs">45N</text>
<text class="tl" x="66" y="239.8" text-anchor="middle" textLength="32.2" lengthAdjust="spacingAndGlyphs">−0.5</text>
<text class="tl" x="121.4" y="239.8" text-anchor="middle">0</text>
<text class="tl" x="177.1" y="239.8" text-anchor="middle" textLength="21.4" lengthAdjust="spacingAndGlyphs">0.5</text>
<text class="tt" x="13.4" y="75.8" textLength="21.2" lengthAdjust="spacingAndGlyphs" font-weight="bold">(a)</text>
<text class="tt" x="40.3" y="75.8" textLength="39.3" lengthAdjust="spacingAndGlyphs">9601</text>
<text class="tt" x="86.6" y="75.8" textLength="47.7" lengthAdjust="spacingAndGlyphs">minus</text>
<text class="tt" x="140.4" y="75.8" textLength="38.2" lengthAdjust="spacingAndGlyphs">9095</text>
<text class="tt" x="184.7" y="75.8" textLength="35.3" lengthAdjust="spacingAndGlyphs">(NV)</text>
<path d="M128 155.2 L156.2 141.3 L147.6 155.2 L156.8 169.3 Z" fill="#0a0a0a"/><path d="M145 155.2H164.8" stroke="#0a0a0a" stroke-width="6.2" stroke-linecap="round" fill="none"/>
</g>
<g>
<path d="M65.7 339.8V469M177.1 339.8V469" stroke="#adadad" stroke-width="1" stroke-dasharray="1.6 4.17" fill="none"/>
<path d="M42.9 452.8H205.2M42.9 404.1H205.2M42.9 355.5H205.2" stroke="#adadad" stroke-width="1.1" stroke-dasharray="1.8 3.98" fill="none"/>
<path d="M121.4 339.6V469" stroke="#6596d4" stroke-width="1.25" stroke-dasharray="7.6 1.15" stroke-dashoffset="1.3" fill="none"/>
<path d="M171 339.2C171.9 340.4 175.4 343.6 176.7 346.4C178 349.2 178.9 352.5 178.9 355.8C178.9 359.1 178.5 362.9 176.7 366.2C174.9 369.5 171.7 372.5 168.1 375.7C164.5 378.9 159.3 382 154.9 385.2C150.5 388.4 145.7 391.3 141.6 394.6C137.5 397.9 133.6 401.5 130.3 405C127 408.5 124 412.1 121.8 415.4C119.6 418.7 118.1 421.7 117 424.9C115.9 428.1 115.1 430.8 115.1 434.4C115.1 438 116 442.8 117 446.7C118 450.6 119.5 454.3 120.8 458C122.1 461.7 124 467.2 124.6 469" stroke="#e25d5b" stroke-width="1.05" fill="none"/>
<rect x="37.9" y="339.3" width="167.3" height="129.7" fill="none" stroke="#6a6a6a" stroke-width="1"/>
<path d="M65.7 469v5.2M121.4 469v5.2M177.1 469v5.2M37.9 452.8h-4.8M37.9 404.1h-4.8M37.9 355.5h-4.8" stroke="#4a4a4a" stroke-width="1" fill="none"/>
<text class="tl" x="28.3" y="458.1" text-anchor="end" textLength="27" lengthAdjust="spacingAndGlyphs">15N</text>
<text class="tl" x="28.3" y="409.4" text-anchor="end" textLength="27" lengthAdjust="spacingAndGlyphs">30N</text>
<text class="tl" x="28.3" y="360.8" text-anchor="end" textLength="27" lengthAdjust="spacingAndGlyphs">45N</text>
<text class="tl" x="66" y="489.6" text-anchor="middle" textLength="32.2" lengthAdjust="spacingAndGlyphs">−0.5</text>
<text class="tl" x="121.4" y="489.6" text-anchor="middle">0</text>
<text class="tl" x="177.1" y="489.6" text-anchor="middle" textLength="21.4" lengthAdjust="spacingAndGlyphs">0.5</text>
<text class="tt" x="13.3" y="326.3" textLength="20" lengthAdjust="spacingAndGlyphs" font-weight="bold">(c)</text>
<text class="tt" x="38.5" y="326.3" textLength="38.5" lengthAdjust="spacingAndGlyphs">9095</text>
<text class="tt" x="84" y="326.3" textLength="19.4" lengthAdjust="spacingAndGlyphs">(V</text>
<text class="tt" x="106.9" y="326.3" textLength="47.3" lengthAdjust="spacingAndGlyphs">minus</text>
<text class="tt" x="160" y="326.3" textLength="28.5" lengthAdjust="spacingAndGlyphs">NV)</text>
<path d="M128 413.9 L156.2 400 L147.6 413.9 L156.8 428 Z" fill="#0a0a0a"/><path d="M145 413.9H164.8" stroke="#0a0a0a" stroke-width="6.2" stroke-linecap="round" fill="none"/>
</g>
<g>
<path d="M65.7 589.8V718.7M177.1 589.8V718.7" stroke="#adadad" stroke-width="1" stroke-dasharray="1.6 4.17" fill="none"/>
<path d="M42.9 702.5H205.2M42.9 654H205.2M42.9 605.5H205.2" stroke="#adadad" stroke-width="1.1" stroke-dasharray="1.8 3.98" fill="none"/>
<path d="M121.4 589.6V718.7" stroke="#6596d4" stroke-width="1.25" stroke-dasharray="7.6 1.15" stroke-dashoffset="1.3" fill="none"/>
<path d="M84.9 589.2C85.7 590.8 87.2 595.4 89.6 598.9C92 602.4 95.4 606.5 99.3 610C103.2 613.5 109.3 617 113.2 619.7C117.1 622.4 117.8 623.3 122.4 626.1C127 628.9 135.6 633.2 141 636.3C146.4 639.4 150.9 641.8 154.8 644.6C158.7 647.4 162.2 650.2 164.5 653C166.8 655.8 168.2 658.3 168.7 661.3C169.2 664.3 168.7 667.5 167.3 671C165.9 674.5 163.4 678.4 160.4 682.1C157.4 685.8 153 689.5 149.3 693.2C145.6 696.9 142.1 700 138.2 704.3C134.3 708.5 127.8 716.3 125.7 718.7" stroke="#e25d5b" stroke-width="1.05" fill="none"/>
<rect x="37.9" y="589.3" width="167.3" height="129.4" fill="none" stroke="#6a6a6a" stroke-width="1"/>
<path d="M65.7 718.7v5.2M121.4 718.7v5.2M177.1 718.7v5.2M37.9 702.5h-4.8M37.9 654h-4.8M37.9 605.5h-4.8" stroke="#4a4a4a" stroke-width="1" fill="none"/>
<text class="tl" x="28.3" y="707.8" text-anchor="end" textLength="27" lengthAdjust="spacingAndGlyphs">15N</text>
<text class="tl" x="28.3" y="659.3" text-anchor="end" textLength="27" lengthAdjust="spacingAndGlyphs">30N</text>
<text class="tl" x="28.3" y="610.8" text-anchor="end" textLength="27" lengthAdjust="spacingAndGlyphs">45N</text>
<text class="tl" x="66" y="739.3" text-anchor="middle" textLength="32.2" lengthAdjust="spacingAndGlyphs">−0.5</text>
<text class="tl" x="121.4" y="739.3" text-anchor="middle">0</text>
<text class="tl" x="177.1" y="739.3" text-anchor="middle" textLength="21.4" lengthAdjust="spacingAndGlyphs">0.5</text>
<text class="tt" x="13.3" y="575.4" textLength="21.7" lengthAdjust="spacingAndGlyphs" font-weight="bold">(e)</text>
<text class="tt" x="40.3" y="575.4" textLength="38.5" lengthAdjust="spacingAndGlyphs">9601</text>
<text class="tt" x="85.8" y="575.4" textLength="19.2" lengthAdjust="spacingAndGlyphs">(V</text>
<text class="tt" x="108.6" y="575.4" textLength="47.4" lengthAdjust="spacingAndGlyphs">minus</text>
<text class="tt" x="161.2" y="575.4" textLength="28.4" lengthAdjust="spacingAndGlyphs">NV)</text>
<circle cx="85.2" cy="626.1" r="2.8" fill="#0a0a0a"/><circle cx="96.9" cy="626.1" r="2.8" fill="#0a0a0a"/><path d="M106.3 617.7L122.4 626.1L106.3 634.4Z" fill="#0a0a0a"/>
</g>
</svg></body></html>
